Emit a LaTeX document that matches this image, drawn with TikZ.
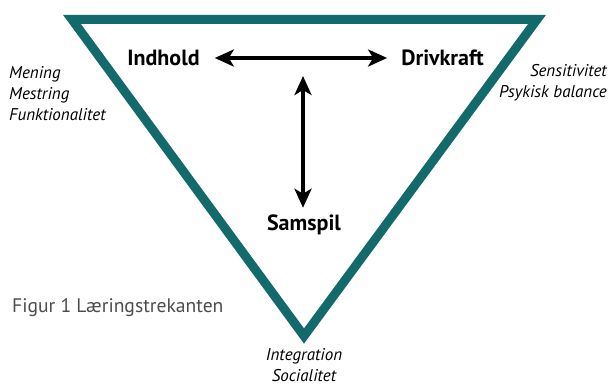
\documentclass[tikz,border=0pt]{standalone}
\usepackage{fontspec}
\setmainfont{PT Sans}
\usepackage{xcolor}
\usetikzlibrary{arrows.meta, positioning, calc}

\definecolor{trekant}{RGB}{19,106,107}

\begin{document}
\begin{tikzpicture}[
    x=1pt, y=-1pt,
    % --- node styles ---
    hoved/.style={inner sep=0pt, font=\fontsize{22}{26}\selectfont\bfseries},
    side/.style={inner sep=0pt, font=\fontsize{17}{21}\selectfont\itshape},
    caption/.style={inner sep=0pt, text=black!70, font=\fontsize{19.6}{24}\selectfont},
    % --- arrow / line styles ---
    arr/.style={{Stealth[length=19pt, width=17pt, inset=5pt]}-{Stealth[length=19pt, width=17pt, inset=5pt]}, line width=3.5pt},
    kant/.style={draw=trekant, line width=9pt, miter limit=20, line join=miter}
]
\useasboundingbox (0,0) rectangle (608,385);

%%% ================= TREKANT =================
\coordinate (tl) at (72,19.5);
\coordinate (tr) at (537,19.5);
\coordinate (bt) at (304,336);
\draw [kant] (tl) -- (tr) -- (bt) -- cycle;

%%% ================= HJOERNER =================
\node (indhold)   [hoved] at (163.5,58) {Indhold};
\node (drivkraft) [hoved] at (442.5,58) {Drivkraft};
\node (samspil)   [hoved] at (304,225) {Samspil};

%%% ================= SIDETEKSTER =================
\node (venstre) [side, align=left, anchor=west] at (9,94)
    {Mening\\Mestring\\Funktionalitet};
\node (hoejre) [side, align=right, anchor=east] at (607,83)
    {Sensitivitet\\Psykisk balance};
\node (bund) [side, align=center, anchor=north] at (304,348)
    {Integration\\Socialitet};

\node (figur) [caption, anchor=west] at (12,308) {Figur 1 Læringstrekanten};

%%% ================= PILE =================
\coordinate (top) at (303,76);
\draw [arr] ([xshift=15pt]indhold.east) -- ([xshift=-14pt]drivkraft.west);
\draw [arr] (top) -- ([yshift=7pt]samspil.north -| top);

\end{tikzpicture}
\end{document}
